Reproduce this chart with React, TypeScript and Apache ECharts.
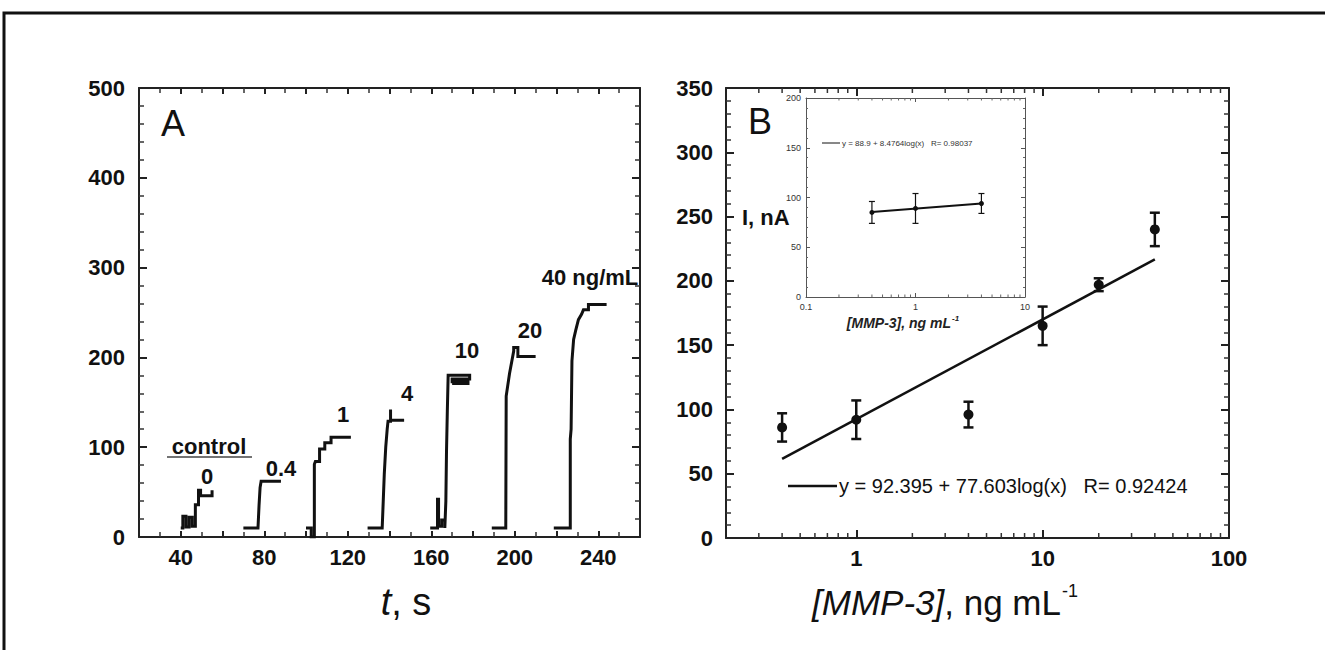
import React, { useEffect, useRef } from 'react';
import * as echarts from 'echarts';

// ---------- Panel A: amperometric step traces (t, s ; I, nA) ----------
const traceCtrl: number[][] = [[40,10],[41,10],[41,23],[42.5,23],[42.5,11],[44,11],[44,22],[45.5,22],[45.5,12],[47,12],[47,36],[48.5,36],[48.5,52],[49.5,52],[49.5,46],[55,46],[55,52]];
const trace04: number[][] = [[70,10],[77,10],[77.5,35],[78,55],[78.5,62],[88,62]];
const trace1: number[][] = [[100,10],[102.5,10],[102.5,0],[104,0],[104,81],[104.5,84],[106.5,84],[106.5,98],[109,98],[109,105],[112,105],[112,111],[121.5,111]];
const trace4: number[][] = [[129.5,10],[136.5,10],[137,40],[137.5,70],[138.2,100],[138.9,120],[139.3,129],[140.5,129],[140.5,142],[140.5,130],[147,130]];
const trace10: number[][] = [[159.5,10],[163,10],[163,42],[163.5,42],[163.5,12],[165,12],[165,19],[166.5,19],[166.5,10],[167,40],[167.3,94],[167.7,140],[168.1,180],[178.4,180],[178.4,176],[170,176],[170,173],[177.6,173],[177.6,171],[170,171]];
const trace20: number[][] = [[189,10],[195.7,10],[195.9,157],[197.5,182],[199.5,207],[199.5,211],[201.5,211],[201.5,201],[210,201]];
const trace40: number[][] = [[218.7,10],[226.6,10],[226.6,109],[227,120],[227.4,196],[228.2,220],[229.2,230],[230.5,242],[232,248],[232.9,253],[235.3,253],[235.3,259],[244,259]];
const tracesA = [traceCtrl, trace04, trace1, trace4, trace10, trace20, trace40];

const stepLabels = ['0', '0.4', '1', '4', '10', '20', '40 ng/mL'];
const stepLabelPos: number[][] = [[207,476],[281,468],[343,414],[407,393],[467,350],[530,330],[590,277]];

const ticksA_x = [40, 80, 120, 160, 200, 240];

// ---------- Panel B: calibration ----------
const concB = [0.4, 1, 4, 10, 20, 40];
const currB = [86, 92, 96, 165, 197, 240];
const errB = [11, 15, 10, 15, 5, 13];
const fitB: number[][] = [[0.4, 61.5], [40, 216.7]];
const labelsB_x = [1, 10, 100];
const minorB_x = [0.3,0.4,0.5,0.6,0.7,0.8,0.9,2,3,4,5,6,7,8,9,20,30,40,50,60,70,80,90];

// ---------- Inset ----------
const concI = [0.4, 1, 4];
const currI = [85, 89, 94];
const errI = [11, 15, 10];
const fitI: number[][] = [[0.4, 85.5], [4, 94]];
const labelsI_x = [0.1, 1, 10];
const minorI_x = [0.2,0.3,0.4,0.5,0.6,0.7,0.8,0.9,2,3,4,5,6,7,8,9];

const FF = '"Liberation Sans", Arial, sans-serif';
const INK = '#111';

function logLabel(list: number[]) {
  return (v: number) => {
    const hit = list.find((s) => Math.abs(v - s) / s < 1e-6);
    return hit === undefined ? '' : String(hit);
  };
}

function minorTickSeries(data: number[], xi: number, yi: number, ymin: number, ymax: number, len: number, lw: number, color: string) {
  return {
    type: 'custom',
    xAxisIndex: xi,
    yAxisIndex: yi,
    silent: true,
    clip: false,
    data: data.map((d) => [d, ymin]),
    renderItem: (params: any, api: any) => {
      const x = api.value(0);
      const pb = api.coord([x, ymin]);
      const pt = api.coord([x, ymax]);
      return {
        type: 'group',
        children: [
          { type: 'line', shape: { x1: pb[0], y1: pb[1], x2: pb[0], y2: pb[1] - len }, style: { stroke: color, lineWidth: lw } },
          { type: 'line', shape: { x1: pt[0], y1: pt[1], x2: pt[0], y2: pt[1] + len }, style: { stroke: color, lineWidth: lw } },
        ],
      };
    },
  };
}

function errorBarSeries(xs: number[], ys: number[], es: number[], xi: number, yi: number, cap: number, lw: number) {
  return {
    type: 'custom',
    xAxisIndex: xi,
    yAxisIndex: yi,
    silent: true,
    data: xs.map((x, i) => [x, ys[i], es[i]]),
    renderItem: (params: any, api: any) => {
      const x = api.value(0), y = api.value(1), e = api.value(2);
      const top = api.coord([x, y + e]);
      const bot = api.coord([x, y - e]);
      const st = { stroke: INK, lineWidth: lw };
      return {
        type: 'group',
        children: [
          { type: 'line', shape: { x1: top[0], y1: top[1], x2: bot[0], y2: bot[1] }, style: st },
          { type: 'line', shape: { x1: top[0] - cap, y1: top[1], x2: top[0] + cap, y2: top[1] }, style: st },
          { type: 'line', shape: { x1: bot[0] - cap, y1: bot[1], x2: bot[0] + cap, y2: bot[1] }, style: st },
        ],
      };
    },
  };
}

function mainAxisStyle(showLabel: boolean, pos: string) {
  return {
    position: pos,
    splitLine: { show: false },
    axisLine: { show: true, onZero: false, lineStyle: { color: '#222', width: 2 } },
    axisTick: { show: true, inside: true, length: 8, lineStyle: { color: '#222', width: 2 } },
    minorTick: { show: true, length: 4, lineStyle: { color: '#333', width: 1.5 } },
    axisLabel: { show: showLabel, color: INK, fontFamily: FF, fontWeight: 'bold', fontSize: 22 },
  };
}

function insetAxisStyle(showLabel: boolean, pos: string) {
  return {
    position: pos,
    splitLine: { show: false },
    axisLine: { show: true, onZero: false, lineStyle: { color: '#555', width: 1 } },
    axisTick: { show: true, inside: true, length: 4, lineStyle: { color: '#555', width: 1 } },
    minorTick: { show: true, length: 2, lineStyle: { color: '#666', width: 1 } },
    axisLabel: { show: showLabel, color: '#333', fontFamily: FF, fontSize: 9, margin: 5 },
  };
}

function buildOption() {
  const xA = (showLabel: boolean, pos: string) => ({
    type: 'value', gridIndex: 0, min: 20, max: 260, interval: 20,
    ...mainAxisStyle(showLabel, pos),
    minorTick: { show: true, splitNumber: 2, length: 5, lineStyle: { color: '#333', width: 1.5 } },
    axisTick: { show: true, inside: true, length: 6, lineStyle: { color: '#222', width: 2 } },
    axisLabel: { show: showLabel, color: INK, fontFamily: FF, fontWeight: 'bold', fontSize: 22, margin: 9,
      formatter: (v: number) => (ticksA_x.includes(v) ? String(v) : '') },
  });
  const yA = (showLabel: boolean, pos: string) => ({
    type: 'value', gridIndex: 0, min: 0, max: 500, interval: 100,
    ...mainAxisStyle(showLabel, pos),
    minorTick: { show: true, splitNumber: 5, length: 5, lineStyle: { color: '#333', width: 1.5 } },
    axisLabel: { show: showLabel, color: INK, fontFamily: FF, fontWeight: 'bold', fontSize: 22, margin: 14 },
  });
  const xB = (showLabel: boolean, pos: string) => ({
    type: 'log', logBase: 10, gridIndex: 1, min: 0.2, max: 100,
    ...mainAxisStyle(showLabel, pos),
    minorTick: { show: false },
    axisLabel: { show: showLabel, color: INK, fontFamily: FF, fontWeight: 'bold', fontSize: 22, margin: 9,
      formatter: logLabel(labelsB_x), showMinLabel: true, showMaxLabel: true },
  });
  const yB = (showLabel: boolean, pos: string) => ({
    type: 'value', gridIndex: 1, min: 0, max: 350, interval: 50,
    ...mainAxisStyle(showLabel, pos),
    minorTick: { show: true, splitNumber: 5, length: 5, lineStyle: { color: '#333', width: 1.5 } },
    axisLabel: { show: showLabel, color: INK, fontFamily: FF, fontWeight: 'bold', fontSize: 22, margin: 13 },
  });
  const xI = (showLabel: boolean, pos: string) => ({
    type: 'log', logBase: 10, gridIndex: 2, min: 0.1, max: 10,
    ...insetAxisStyle(showLabel, pos),
    minorTick: { show: false },
    axisLabel: { show: showLabel, color: '#333', fontFamily: FF, fontSize: 9, margin: 5,
      formatter: logLabel(labelsI_x), showMinLabel: true, showMaxLabel: true },
  });
  const yI = (showLabel: boolean, pos: string) => ({
    type: 'value', gridIndex: 2, min: 0, max: 200, interval: 50,
    ...insetAxisStyle(showLabel, pos),
    minorTick: { show: true, splitNumber: 5, length: 2, lineStyle: { color: '#666', width: 1 } },
  });

  const series: any[] = [];
  tracesA.forEach((tr) => {
    series.push({
      type: 'line', xAxisIndex: 0, yAxisIndex: 0, data: tr, showSymbol: false, symbol: 'none',
      lineStyle: { color: INK, width: 3, join: 'miter' }, silent: true,
    });
  });
  // Panel B
  series.push(minorTickSeries(minorB_x, 2, 2, 0, 350, 5, 1.5, '#333'));
  series.push({
    type: 'line', xAxisIndex: 2, yAxisIndex: 2, data: fitB, showSymbol: false, symbol: 'none',
    lineStyle: { color: INK, width: 2.5 }, silent: true,
  });
  series.push(errorBarSeries(concB, currB, errB, 2, 2, 5, 2.5));
  series.push({
    type: 'scatter', xAxisIndex: 2, yAxisIndex: 2, data: concB.map((c, i) => [c, currB[i]]),
    symbol: 'circle', symbolSize: 10, itemStyle: { color: INK, opacity: 1 }, silent: true,
  });
  // Inset
  series.push(minorTickSeries(minorI_x, 4, 4, 0, 200, 2.5, 1, '#666'));
  series.push({
    type: 'line', xAxisIndex: 4, yAxisIndex: 4, data: fitI, showSymbol: false, symbol: 'none',
    lineStyle: { color: INK, width: 2 }, silent: true,
  });
  series.push(errorBarSeries(concI, currI, errI, 4, 4, 3, 1.2));
  series.push({
    type: 'scatter', xAxisIndex: 4, yAxisIndex: 4, data: concI.map((c, i) => [c, currI[i]]),
    symbol: 'circle', symbolSize: 5, itemStyle: { color: INK, opacity: 1 }, silent: true,
  });

  const txt = (x: number, y: number, text: string, extra: any = {}) => ({
    type: 'text', x, y, silent: true,
    style: { text, fill: INK, fontFamily: FF, fontWeight: 'bold', fontSize: 22, textAlign: 'center', textVerticalAlign: 'middle', ...extra },
  });

  const graphics: any[] = [
    { type: 'rect', silent: true, shape: { x: 4, y: 13, width: 1340, height: 700 }, style: { fill: 'none', stroke: INK, lineWidth: 3 } },
    txt(173, 123, 'A', { fontWeight: 'normal', fontSize: 36 }),
    txt(760, 121, 'B', { fontWeight: 'normal', fontSize: 36 }),
    txt(209, 446, 'control'),
    { type: 'line', silent: true, shape: { x1: 167, y1: 457, x2: 252, y2: 457 }, style: { stroke: '#444', lineWidth: 1.5 } },
    ...stepLabels.map((s, i) => txt(stepLabelPos[i][0], stepLabelPos[i][1], s)),
    // axis names
    {
      type: 'text', x: 406, y: 602, silent: true,
      style: {
        text: '{i|t}{n|, s}', textAlign: 'center', textVerticalAlign: 'middle',
        rich: {
          i: { fontFamily: FF, fontStyle: 'italic', fontSize: 38, fill: INK, lineHeight: 44 },
          n: { fontFamily: FF, fontSize: 38, fill: INK, lineHeight: 44 },
        },
      },
    },
    {
      type: 'text', x: 945, y: 602, silent: true,
      style: {
        text: '{i|[MMP-3]}{n|, ng mL}{s|-1}', textAlign: 'center', textVerticalAlign: 'middle',
        rich: {
          i: { fontFamily: FF, fontStyle: 'italic', fontSize: 35, fill: INK, lineHeight: 40 },
          n: { fontFamily: FF, fontSize: 35, fill: INK, lineHeight: 40 },
          s: { fontFamily: FF, fontSize: 18, fill: INK, verticalAlign: 'top', lineHeight: 40, padding: [0, 0, 14, 1] },
        },
      },
    },
    // main legend
    { type: 'line', silent: true, shape: { x1: 788, y1: 486, x2: 837, y2: 486 }, style: { stroke: INK, lineWidth: 2.5 } },
    txt(839, 486, 'y = 92.395 + 77.603log(x)   R= 0.92424', { fontWeight: 'normal', fontSize: 20, textAlign: 'left' }),
    // inset labels
    txt(742, 217, 'I, nA', { fontSize: 22, textAlign: 'left' }),
    { type: 'line', silent: true, shape: { x1: 822, y1: 143, x2: 840, y2: 143 }, style: { stroke: INK, lineWidth: 1 } },
    txt(842, 143, 'y = 88.9 + 8.4764log(x)   R= 0.98037', { fontWeight: 'normal', fontSize: 8, textAlign: 'left', fill: '#333' }),
    {
      type: 'text', x: 903, y: 323, silent: true,
      style: {
        text: '{i|[MMP-3]}{n|, ng mL}{s|-1}', textAlign: 'center', textVerticalAlign: 'middle',
        rich: {
          i: { fontFamily: FF, fontStyle: 'italic', fontWeight: 'bold', fontSize: 14, fill: '#222', lineHeight: 18 },
          n: { fontFamily: FF, fontStyle: 'italic', fontWeight: 'bold', fontSize: 14, fill: '#222', lineHeight: 18 },
          s: { fontFamily: FF, fontStyle: 'italic', fontWeight: 'bold', fontSize: 8, fill: '#222', verticalAlign: 'top', lineHeight: 18, padding: [0, 0, 6, 1] },
        },
      },
    },
  ];

  return {
    animation: false,
    backgroundColor: '#ffffff',
    grid: [
      { left: 139, top: 88, width: 501, height: 449, outerBoundsMode: 'none' },
      { left: 726, top: 88, width: 503, height: 450, outerBoundsMode: 'none' },
      { left: 806, top: 98, width: 219, height: 199, outerBoundsMode: 'none' },
    ],
    xAxis: [xA(true, 'bottom'), xA(false, 'top'), xB(true, 'bottom'), xB(false, 'top'), xI(true, 'bottom'), xI(false, 'top')],
    yAxis: [
      { ...yA(true, 'left') }, { ...yA(false, 'right') },
      { ...yB(true, 'left'), gridIndex: 1 }, { ...yB(false, 'right'), gridIndex: 1 },
      { ...yI(true, 'left'), gridIndex: 2 }, { ...yI(false, 'right'), gridIndex: 2 },
    ],
    series,
    graphic: graphics,
  };
}

export default function App() {
  const ref = useRef<HTMLDivElement>(null);
  useEffect(() => {
    document.body.style.margin = '0';
    const chart = echarts.init(ref.current as HTMLDivElement, null, { renderer: 'svg' });
    chart.setOption(buildOption() as any);
    return () => chart.dispose();
  }, []);
  return <div ref={ref} style={{ width: 1325, height: 650, background: '#fff' }} />;
}
